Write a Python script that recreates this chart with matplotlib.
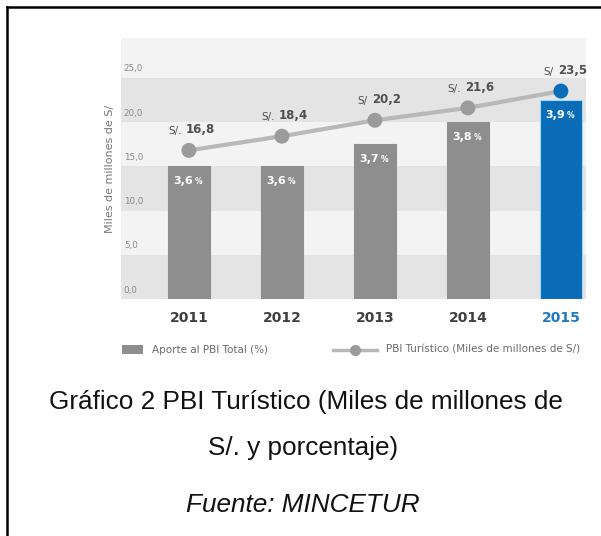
import matplotlib.pyplot as plt
from matplotlib.lines import Line2D
from matplotlib.patches import Rectangle
from matplotlib.transforms import blended_transform_factory

# datos
anios = ['2011', '2012', '2013', '2014', '2015']
aporte_pct = [3.6, 3.6, 3.7, 3.8, 3.9]
aporte_txt = ['3,6', '3,6', '3,7', '3,8', '3,9']
pbi_turistico = [16.8, 18.4, 20.2, 21.6, 23.5]
pbi_prefijo = ['S/.', 'S/.', 'S/', 'S/.', 'S/']
pbi_txt = ['16,8', '18,4', '20,2', '21,6', '23,5']
y_ticks = [0, 5, 10, 15, 20, 25]
y_tick_txt = ['0,0', '5,0', '10,0', '15,0', '20,0', '25,0']

GRIS = '#8e8e8e'
AZUL = '#0b6cb8'
W, H = 601, 536

fig = plt.figure(figsize=(W / 100, H / 100), dpi=100)
fig.patch.set_facecolor('white')

def px_axes(x0, y0, x1, y1):
    return fig.add_axes([x0 / W, 1 - y1 / H, (x1 - x0) / W, (y1 - y0) / H])

# fondo con bandas
ax = px_axes(121, 38, 586, 299)
ymax = 29.5
ax.set_xlim(-0.73, 4.27)
ax.set_ylim(0, ymax)
ax.set_facecolor('#f3f3f3')
for lo in (0, 10, 20):
    ax.axhspan(lo, lo + 5, color='#e4e4e4', lw=0)
for s in ax.spines.values():
    s.set_visible(False)
ax.set_yticks([])
x = list(range(len(anios)))
ax.set_xticks(x)
ax.set_xticklabels(anios, fontsize=10, fontweight='bold', color='#3f3f3f')
ax.get_xticklabels()[-1].set_color('#1f78c1')
ax.tick_params(axis='x', length=0, pad=9)
trans = blended_transform_factory(ax.transAxes, ax.transData)
for v, t in zip(y_ticks, y_tick_txt):
    ax.text(0.006, v + 0.5, t, transform=trans, fontsize=6.3, color='#8a8a8a',
            ha='left', va='bottom')
ax.set_ylabel('Miles de millones de S/', fontsize=8, color='#777777', labelpad=4)

# barras (escala de porcentaje)
ax_bar = ax.twinx()
base = 3.0
ax_bar.set_ylim(base, base + ymax / 25)
ax_bar.axis('off')
colores = [GRIS] * 4 + [AZUL]
bordes = [GRIS] * 4 + ['#9fd8f2']
ax_bar.bar(x, [p - base for p in aporte_pct], bottom=base, width=0.46,
           color=colores, edgecolor=bordes, linewidth=0.8)
for xi, p, t in zip(x, aporte_pct, aporte_txt):
    ax_bar.annotate(t, (xi, p), xytext=(3, -7), textcoords='offset points',
                    ha='right', va='top', fontsize=8, fontweight='bold', color='white')
    ax_bar.annotate('%', (xi, p), xytext=(4.5, -8), textcoords='offset points',
                    ha='left', va='top', fontsize=5.5, fontweight='bold', color='white')

# linea PBI turistico
ax_line = ax.twinx()
ax_line.set_ylim(0, ymax)
ax_line.axis('off')
ax_line.plot(x, pbi_turistico, color='#b8b8b8', lw=3, zorder=2)
ax_line.scatter(x, pbi_turistico, s=95, color=['#9b9b9b'] * 4 + [AZUL], zorder=3)
for xi, v, pre, t in zip(x, pbi_turistico, pbi_prefijo, pbi_txt):
    ax_line.annotate(pre, (xi, v), xytext=(-5, 10), textcoords='offset points',
                     ha='right', va='bottom', fontsize=7.5, color='#505050')
    ax_line.annotate(t, (xi, v), xytext=(-2, 10), textcoords='offset points',
                     ha='left', va='bottom', fontsize=8.5, fontweight='bold', color='#505050')

# leyenda (recortada a la derecha como en el original)
lg = px_axes(110, 338, 591, 362)
lg.set_xlim(110, 591)
lg.set_ylim(362, 338)
lg.axis('off')
lg.add_patch(Rectangle((122, 345), 21, 9, color=GRIS, lw=0))
lg.text(152, 350, 'Aporte al PBI Total (%)', fontsize=7.5, color='#6a6a6a',
        va='center', ha='left', clip_on=True)
lg.add_line(Line2D([333, 377], [350, 350], color='#b8b8b8', lw=2.5))
lg.add_line(Line2D([355], [350], marker='o', ms=7, color='#9b9b9b', lw=0))
lg.text(386, 350, 'PBI Turístico (Miles de millones de S/)', fontsize=7.5,
        color='#6a6a6a', va='center', ha='left', clip_on=True)

# titulo y fuente
cap = dict(fontsize=18.8, family='Liberation Sans', ha='center', va='baseline',
           color='#111111')
fig.text(306 / W, 1 - 409 / H, 'Gráfico 2 PBI Turístico (Miles de millones de', **cap)
fig.text(303 / W, 1 - 455 / H, 'S/. y porcentaje)', **cap)
fig.text(303 / W, 1 - 512 / H, 'Fuente: MINCETUR', style='italic', **cap)

# marco
fig.add_artist(Line2D([7 / W, 7 / W], [0, 1 - 7 / H], color='black', lw=1.8))
fig.add_artist(Line2D([7 / W, 1], [1 - 7 / H, 1 - 7 / H], color='black', lw=1.8))

fig.savefig('out.png', dpi=100)
